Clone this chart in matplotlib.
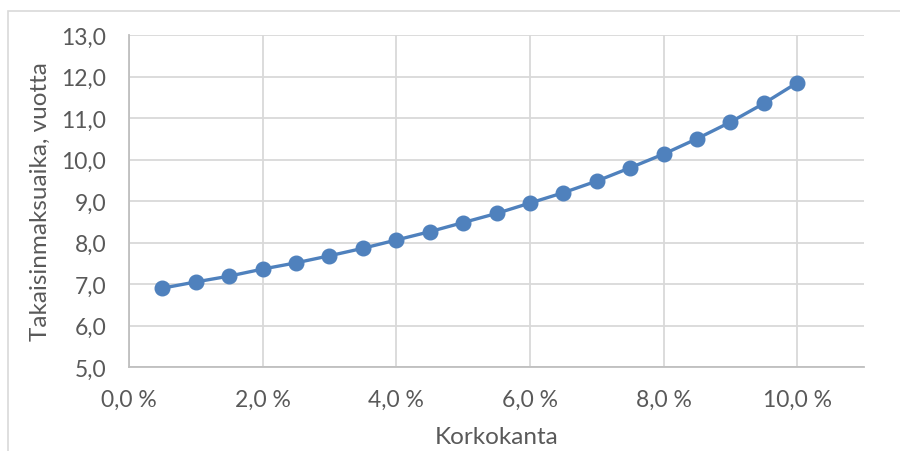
import numpy as np
import matplotlib.pyplot as plt
from matplotlib.patches import Rectangle
from matplotlib.ticker import FuncFormatter

# korkokanta (%) ja takaisinmaksuaika (vuotta)
korko = [0.5, 1.0, 1.5, 2.0, 2.5, 3.0, 3.5, 4.0, 4.5, 5.0,
         5.5, 6.0, 6.5, 7.0, 7.5, 8.0, 8.5, 9.0, 9.5, 10.0]
aika = [6.90, 7.05, 7.19, 7.36, 7.51, 7.68, 7.86, 8.06, 8.26, 8.48,
        8.70, 8.95, 9.20, 9.48, 9.80, 10.13, 10.50, 10.90, 11.35, 11.85]
x_ticks = [0, 2, 4, 6, 8, 10]
y_ticks = [5, 6, 7, 8, 9, 10, 11, 12, 13]

plt.rcParams['font.family'] = ['Lato', 'DejaVu Sans']
harmaa = '#595959'

fig = plt.figure(figsize=(9, 4.52), dpi=100)
ax = fig.add_axes([129/900, 1-368/452, (864-129)/900, (368-36)/452])

ax.plot(korko, aika, color='#4f81bd', lw=2.4, marker='o', ms=10.5,
        zorder=3, clip_on=False)

ax.set_xlim(0, 11)
ax.set_ylim(5, 13)
ax.set_xticks(x_ticks)
ax.set_yticks(y_ticks)
ax.xaxis.set_major_formatter(FuncFormatter(lambda v, p: ('%.1f %%' % v).replace('.', ',')))
ax.yaxis.set_major_formatter(FuncFormatter(lambda v, p: ('%.1f' % v).replace('.', ',')))
ax.tick_params(length=0, labelsize=16.5, colors=harmaa)
ax.tick_params(axis='x', pad=16)
ax.tick_params(axis='y', pad=16.5)

ax.grid(True, color='#d9d9d9', lw=1.3)
ax.set_axisbelow(True)
for s in ['top', 'right']:
    ax.spines[s].set_visible(False)
for s in ['left', 'bottom']:
    ax.spines[s].set_color('#bfbfbf')
    ax.spines[s].set_linewidth(1.3)

ax.set_xlabel('Korkokanta', fontsize=17.5, color=harmaa, va='center')
ax.set_ylabel('Takaisinmaksuaika, vuotta', fontsize=17.5, color=harmaa, va='center')
ax.xaxis.set_label_coords(0.5, (368-438)/332)
ax.yaxis.set_label_coords((40-129)/735, 0.5)

# kaavion kehys
fig.patches.append(Rectangle((8/900, -0.05), 1.0, 1-12/452+0.05, transform=fig.transFigure,
                             fill=False, edgecolor='#d9d9d9', lw=1.2))

fig.savefig('out.png', dpi=100)
